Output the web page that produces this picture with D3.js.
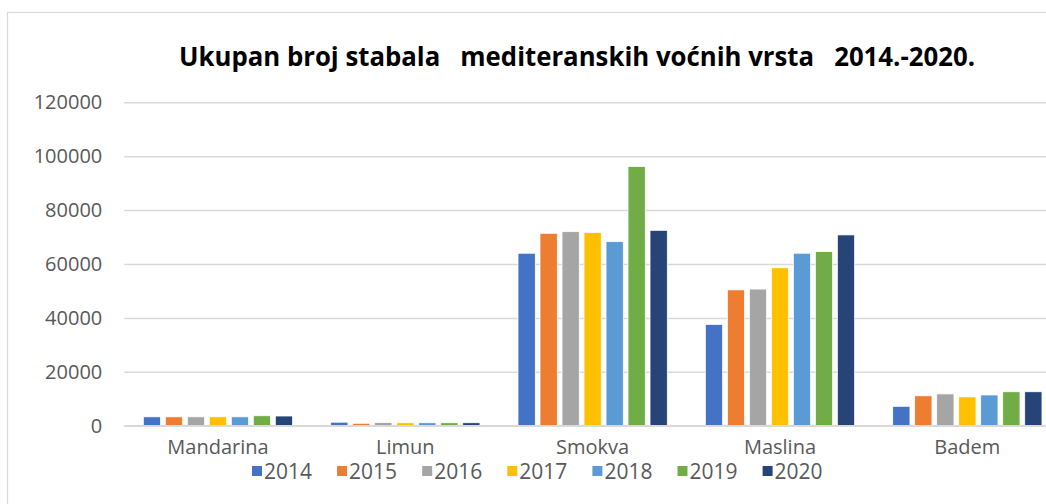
<!DOCTYPE html>
<html>
<head>
<meta charset="utf-8">
<script src="https://cdn.jsdelivr.net/npm/d3@7"></script>
<style>
  body { margin: 0; background: #fff; }
  svg { display: block; font-family: 'Open Sans', sans-serif; }
</style>
</head>
<body>
<script>
var categories = ['Mandarina', 'Limun', 'Smokva', 'Maslina', 'Badem'];
var years = ['2014', '2015', '2016', '2017', '2018', '2019', '2020'];
var colors = ['#4472c4', '#ed7d31', '#a5a5a5', '#ffc000', '#5b9bd5', '#70ad47', '#264478'];
var yTicks = [0, 20000, 40000, 60000, 80000, 100000, 120000];

// one array per year, values in category order
var v2014 = [3300, 1300, 64000, 37600, 7200];
var v2015 = [3300, 900, 71400, 50400, 11100];
var v2016 = [3300, 1200, 72000, 50700, 11800];
var v2017 = [3300, 1100, 71700, 58600, 10700];
var v2018 = [3300, 1100, 68300, 64000, 11400];
var v2019 = [3700, 1100, 96200, 64600, 12600];
var v2020 = [3600, 1100, 72500, 70800, 12600];
var series = [v2014, v2015, v2016, v2017, v2018, v2019, v2020];

var width = 1046,
  height = 504,
  plotLeft = 124.3,
  plotRight = 1061,
  plotTop = 102.3,
  plotBottom = 425.7;

var svg = d3.select('body').append('svg')
  .attr('width', width)
  .attr('height', height);

// chart frame (cut off at right / bottom in the reference)
svg.append('rect')
  .attr('x', 7.5)
  .attr('y', 12.5)
  .attr('width', 1200)
  .attr('height', 600)
  .style('fill', 'none')
  .style('stroke', '#d9d9d9')
  .style('stroke-width', 1.2);

svg.append('text')
  .attr('x', 179)
  .attr('y', 66)
  .attr('textLength', 796)
  .attr('lengthAdjust', 'spacingAndGlyphs')
  .style('font-size', '27px')
  .style('font-weight', 'bold')
  .style('fill', '#000')
  .style('white-space', 'pre')
  .text('Ukupan broj stabala   mediteranskih vo\u0107nih vrsta   2014.-2020.');

var y = d3.scaleLinear().domain([0, 120000]).range([plotBottom, plotTop]);

var x0 = d3.scaleBand().domain(categories).range([plotLeft, plotRight])
  .paddingInner(0.203).paddingOuter(0.1015);

var x1 = d3.scaleBand().domain(years).range([0, x0.bandwidth()])
  .paddingInner(0.214).paddingOuter(0);

var yAxis = d3.axisLeft(y).tickValues(yTicks).tickSize(-(plotRight - plotLeft)).tickPadding(22)
  .tickFormat(d3.format('d'));

var gy = svg.append('g')
  .attr('transform', 'translate(' + plotLeft + ',0)')
  .call(yAxis);
gy.select('.domain').remove();
gy.selectAll('.tick line')
  .style('stroke', '#d9d9d9')
  .style('stroke-width', 1.5);
gy.selectAll('.tick text')
  .style('font-size', '20px')
  .style('fill', '#595959')
  .style('font-family', "'Open Sans', sans-serif");

var groups = svg.append('g').selectAll('g')
  .data(categories)
  .enter()
  .append('g')
  .attr('transform', function(d) { return 'translate(' + x0(d) + ',0)'; });

groups.selectAll('rect')
  .data(function(d, ci) {
    return years.map(function(yr, i) { return { year: yr, value: series[i][ci], color: colors[i] }; });
  })
  .enter()
  .append('rect')
  .attr('x', function(d) { return x1(d.year); })
  .attr('y', function(d) { return y(d.value); })
  .attr('width', x1.bandwidth())
  .attr('height', function(d) { return y(0) - y(d.value); })
  .style('fill', function(d) { return d.color; })
  .style('stroke', '#fff')
  .style('stroke-width', 0.8);

// baseline
svg.append('line')
  .attr('x1', plotLeft)
  .attr('x2', plotRight)
  .attr('y1', y(0))
  .attr('y2', y(0))
  .style('stroke', '#d9d9d9')
  .style('stroke-width', 1.5);

var xAxis = d3.axisBottom(x0).tickSize(0).tickPadding(14);
var gx = svg.append('g')
  .attr('transform', 'translate(0,' + y(0) + ')')
  .call(xAxis);
gx.select('.domain').remove();
gx.selectAll('.tick text')
  .style('font-size', '20px')
  .style('fill', '#595959')
  .style('font-family', "'Open Sans', sans-serif");

// legend
var legend = svg.append('g').attr('class', 'legend');
var item = legend.selectAll('g')
  .data(years)
  .enter()
  .append('g')
  .attr('transform', function(d, i) { return 'translate(' + (252 + i * 85.1) + ',0)'; });

item.append('rect')
  .attr('x', 0)
  .attr('y', 466)
  .attr('width', 10)
  .attr('height', 10)
  .style('fill', function(d, i) { return colors[i]; });

item.append('text')
  .attr('x', 12)
  .attr('y', 479)
  .style('font-size', '21px')
  .style('fill', '#595959')
  .text(function(d) { return d; });
</script>
</body>
</html>
